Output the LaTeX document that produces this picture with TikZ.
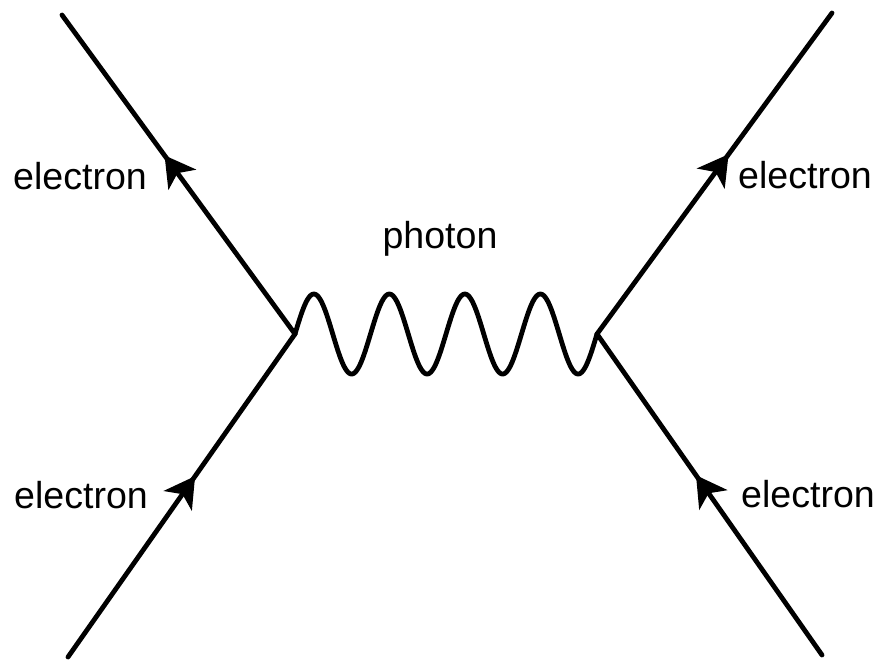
\documentclass[tikz,border=0pt]{standalone}
\usepackage{fontspec}
\setmainfont{Liberation Sans}
\usetikzlibrary{arrows.meta,decorations.markings}
\begin{document}
\begin{tikzpicture}[x=0.025cm, y=-0.025cm, line width=0.12cm, line cap=round,
    fermion/.style={postaction={decorate}, decoration={markings,
        mark=at position 0.56 with {\arrow{Stealth[length=0.75cm,width=0.85cm,inset=0.2cm]}}}},
    lbl/.style={anchor=base, font=\fontsize{26.7}{32}\selectfont}]
\useasboundingbox (0,0) rectangle (881,660);
% vertices and outer ends
\coordinate (vl) at (295,334);
\coordinate (vr) at (597,334);
\coordinate (tl) at (62,15);
\coordinate (bl) at (68,657);
\coordinate (tr) at (832,13);
\coordinate (br) at (822,655);
% electron lines
\draw[fermion] (vl)--(tl);
\draw[fermion] (bl)--(vl);
\draw[fermion] (vr)--(tr);
\draw[fermion] (br)--(vr);
% photon, four periods from vl to vr
\draw[shift={(vl)}, line join=round] plot[domain=0:1440, samples=241]
    ({\x/1440*302}, {-40*sin(\x)});
\node[lbl] (etl) at (80,189) {electron};
\node[lbl] (ebl) at (81,508) {electron};
\node[lbl] (etr) at (805,188) {electron};
\node[lbl] (ebr) at (808,507) {electron};
\node[lbl] (ph) at (440,248) {photon};
\end{tikzpicture}
\end{document}
